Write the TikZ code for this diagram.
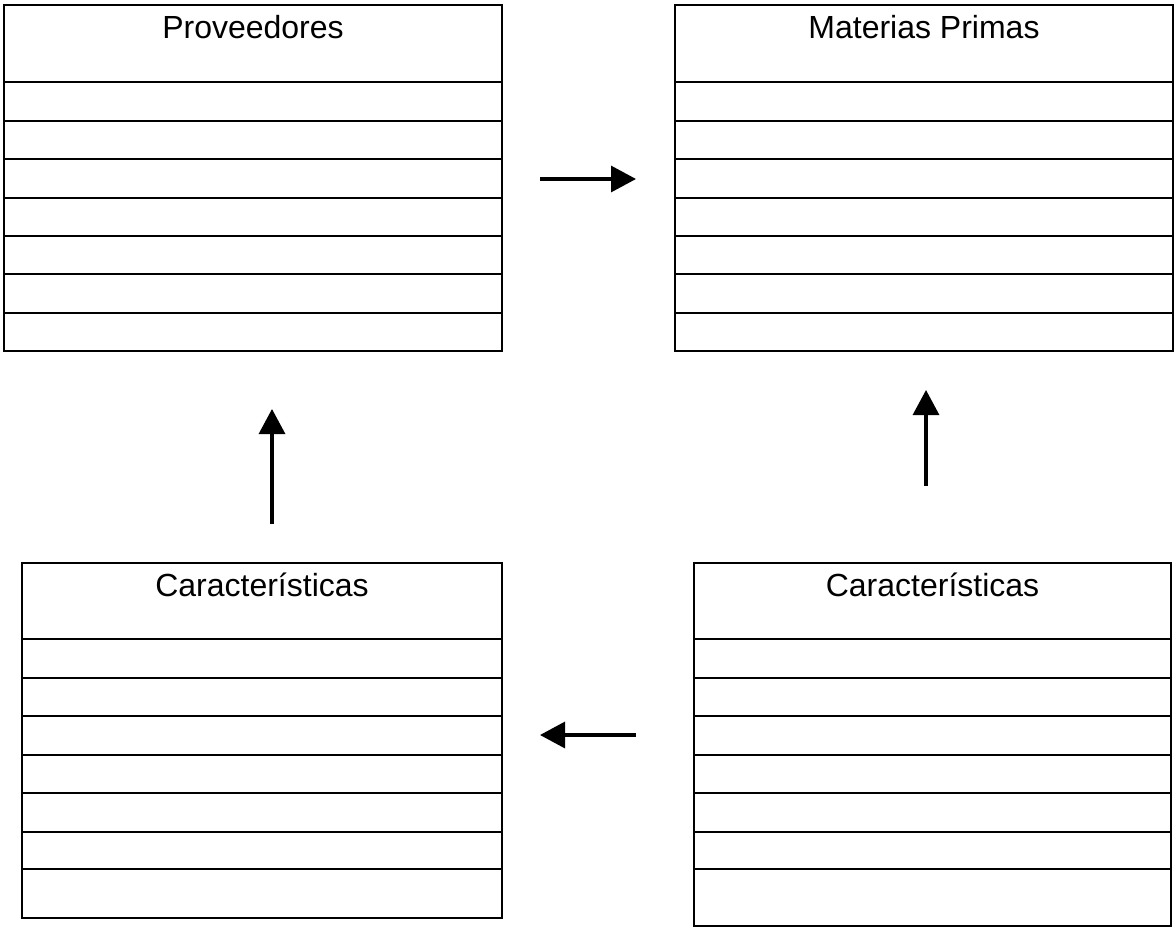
\documentclass[tikz,border=0pt]{standalone}
\usepackage{fontspec}
\setmainfont{Liberation Sans}
\usetikzlibrary{arrows.meta}

\begin{document}
\begin{tikzpicture}[x=1pt,y=-1pt,
    caja/.style={draw, line width=2.6pt, inner sep=0pt, outer sep=0pt, anchor=north west},
    fila/.style={line width=1.6pt},
    titulo/.style={anchor=base, font=\fontsize{32}{38}\selectfont},
    flecha/.style={line width=3.2pt, -{Triangle[length=25pt, width=26pt]}}]
    \useasboundingbox (0,0) rectangle (1174,928);

    % tablas de arriba
    \node[caja, minimum width=498pt, minimum height=346pt] (prov) at (4,5) {};
    \node[caja, minimum width=498pt, minimum height=346pt] (mat) at (675,5) {};
    \node[titulo] (tprov) at ([yshift=-34pt]prov.north) {Proveedores};
    \node[titulo] (tmat) at ([yshift=-34pt]mat.north) {Materias Primas};
    \foreach \y in {77,116,154,193,231,269,308} {
      \draw[fila] (prov.north west) ++(0,\y) -- ++(498,0);
      \draw[fila] (mat.north west) ++(0,\y) -- ++(498,0);
    }

    % tablas de abajo
    \node[caja, minimum width=480pt, minimum height=355pt] (carprov) at (22,563) {};
    \node[caja, minimum width=477pt, minimum height=363pt] (carmat) at (694,563) {};
    \node[titulo] (tcarprov) at ([yshift=-33pt]carprov.north) {Características};
    \node[titulo] (tcarmat) at ([yshift=-33pt]carmat.north) {Características};
    \foreach \y in {76,115,153,192,230,269,306} {
      \draw[fila] (carprov.north west) ++(0,\y) -- ++(480,0);
      \draw[fila] (carmat.north west) ++(0,\y) -- ++(477,0);
    }

    % flechas
    \coordinate (ini1) at (540,179);
    \coordinate (fin1) at (636,179);
    \coordinate (ini2) at (272,524);
    \coordinate (fin2) at (272,409);
    \coordinate (ini3) at (926,486);
    \coordinate (fin3) at (926,390);
    \coordinate (ini4) at (636,735);
    \coordinate (fin4) at (540,735);
    \draw[flecha] (ini1) -- (fin1);
    \draw[flecha] (ini2) -- (fin2);
    \draw[flecha] (ini3) -- (fin3);
    \draw[flecha] (ini4) -- (fin4);
\end{tikzpicture}
\end{document}
